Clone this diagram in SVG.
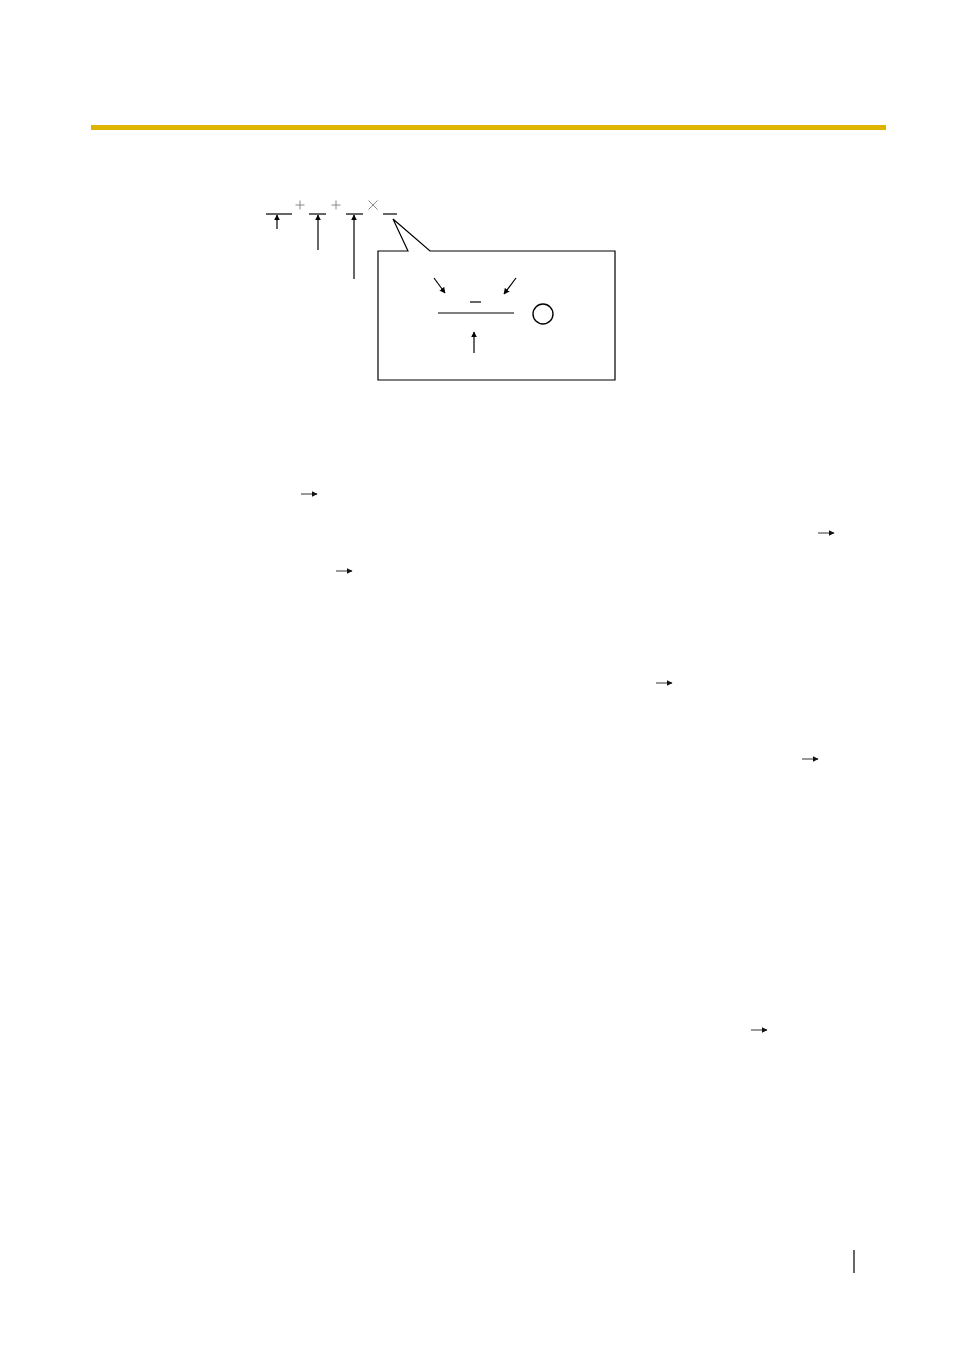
<svg xmlns="http://www.w3.org/2000/svg" width="954" height="1350" viewBox="0 0 954 1350">
<style>
.ln{stroke:#000;stroke-width:1.2;fill:none}
.op{stroke:#888;stroke-width:1;fill:none}
.ar{stroke:#000;stroke-width:1.2;fill:none;marker-end:url(#ah)}
.sa{stroke:#555;stroke-width:1.2;fill:none;marker-end:url(#sh)}
</style>
<defs>
<marker id="ah" viewBox="0 0 10 10" refX="9" refY="5" markerWidth="6" markerHeight="7" markerUnits="userSpaceOnUse" orient="auto">
<path d="M0,0 L10,5 L0,10 Z" fill="#000"/>
</marker>
<marker id="sh" viewBox="0 0 10 10" refX="9" refY="5" markerWidth="6" markerHeight="6" markerUnits="userSpaceOnUse" orient="auto">
<path d="M0,0 L10,5 L0,10 Z" fill="#111"/>
</marker>
</defs>
<rect width="954" height="1350" fill="#fff"/>
<rect id="header-bar" x="91" y="125" width="795" height="5" fill="#DDB400"/>
<g id="formula">
<line class="ln" x1="266" y1="214" x2="292" y2="214"/>
<path class="op" d="M295.5,205 H304.5 M300,200.5 V209.5"/>
<line class="ln" x1="309" y1="214" x2="326" y2="214"/>
<path class="op" d="M331.5,205 H340.5 M336,200.5 V209.5"/>
<line class="ln" x1="346" y1="214" x2="363" y2="214"/>
<path class="op" d="M368.5,200.5 L377.5,209.5 M377.5,200.5 L368.5,209.5"/>
<line class="ln" x1="383" y1="214" x2="397" y2="214"/>
</g>
<g id="callout">
<path d="M408,251 L393,219 L430,251 L615,251 L615,380 L378,380 L378,251 Z" fill="#fff" stroke="#000" stroke-width="1.2" stroke-linejoin="miter"/>
<line class="ln" x1="470" y1="302" x2="481" y2="302"/>
<line class="ln" x1="438" y1="313" x2="514" y2="313"/>
<circle cx="543" cy="314" r="10" fill="none" stroke="#000" stroke-width="1.4"/>
</g>
<g id="connectors">
<line class="ar" x1="277" y1="229" x2="277" y2="215"/>
<line class="ar" x1="318" y1="250" x2="318" y2="215"/>
<line class="ar" x1="354" y1="279" x2="354" y2="215"/>
<line class="ar" x1="434" y1="278" x2="445" y2="293"/>
<line class="ar" x1="516" y1="278" x2="504" y2="294"/>
<line class="ar" x1="474" y1="353" x2="474" y2="332"/>
<line class="sa" x1="301" y1="494" x2="317" y2="494"/>
<line class="sa" x1="818" y1="533" x2="834" y2="533"/>
<line class="sa" x1="336" y1="571" x2="352" y2="571"/>
<line class="sa" x1="656" y1="683" x2="672" y2="683"/>
<line class="sa" x1="802" y1="759" x2="818" y2="759"/>
<line class="sa" x1="751" y1="1030" x2="767" y2="1030"/>
</g>
<line id="page-mark" x1="854" y1="1250" x2="854" y2="1273" stroke="#000" stroke-width="1.2"/>
</svg>
